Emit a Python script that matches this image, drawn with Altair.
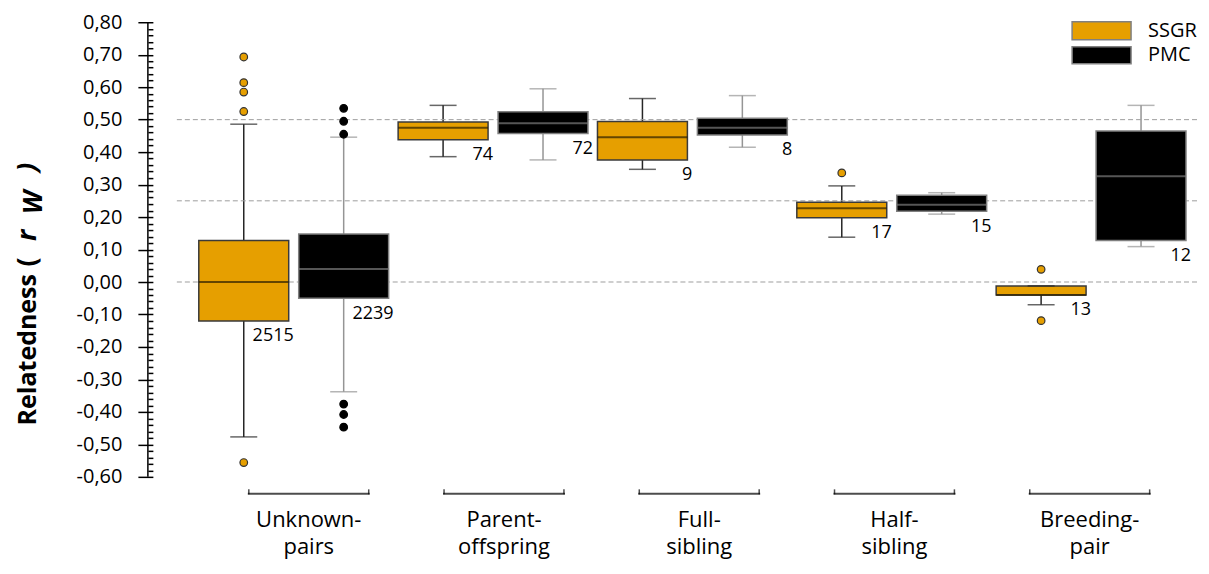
import altair as alt
import pandas as pd

categories = ["Unknown-pairs", "Parent-offspring", "Full-sibling", "Half-sibling", "Breeding-pair"]
groups = ["SSGR", "PMC"]

ssgr_low = [-0.477, 0.386, 0.347, 0.138, -0.070]
ssgr_q1 = [-0.120, 0.438, 0.376, 0.198, -0.040]
ssgr_med = [0.000, 0.475, 0.446, 0.227, -0.040]
ssgr_q3 = [0.128, 0.493, 0.494, 0.246, -0.012]
ssgr_high = [0.486, 0.544, 0.565, 0.296, -0.012]
ssgr_n = [2515, 74, 9, 17, 13]

pmc_low = [-0.338, 0.376, 0.415, 0.209, 0.109]
pmc_q1 = [-0.050, 0.457, 0.453, 0.218, 0.128]
pmc_med = [0.040, 0.489, 0.475, 0.238, 0.326]
pmc_q3 = [0.148, 0.524, 0.504, 0.267, 0.465]
pmc_high = [0.446, 0.595, 0.574, 0.275, 0.544]
pmc_n = [2239, 72, 8, 15, 12]

outlier_cat = ["Unknown-pairs"] * 5 + ["Unknown-pairs"] * 6 + ["Half-sibling"] + ["Breeding-pair"] * 2
outlier_grp = ["SSGR"] * 5 + ["PMC"] * 6 + ["SSGR"] + ["SSGR"] * 2
outlier_val = [0.693, 0.614, 0.585, 0.525, -0.556,
               0.535, 0.495, 0.455, -0.376, -0.408, -0.447,
               0.336,
               0.039, -0.119]

reference_lines = [0.0, 0.25, 0.50]
y_tick_values = [round(-0.60 + 0.02 * i, 2) for i in range(71)]

FONT = "Open Sans"
W, H = 1053, 455

rows = []
for g, lo, q1, md, q3, hi, n in [("SSGR", ssgr_low, ssgr_q1, ssgr_med, ssgr_q3, ssgr_high, ssgr_n),
                                 ("PMC", pmc_low, pmc_q1, pmc_med, pmc_q3, pmc_high, pmc_n)]:
    for i, c in enumerate(categories):
        rows.append({"cat": c, "grp": g, "lo": lo[i], "q1": q1[i], "med": md[i],
                     "q3": q3[i], "hi": hi[i], "n": n[i]})
box = pd.DataFrame(rows)
outl = pd.DataFrame({"cat": outlier_cat, "grp": outlier_grp, "val": outlier_val})
cats_df = pd.DataFrame({"cat": categories})

y_scale = alt.Scale(domain=[-0.6, 0.8], nice=False, zero=False)
# band scale of the boxes
x_scale = alt.Scale(domain=categories, paddingInner=0, paddingOuter=0.139, align=0.833)
xo_scale = alt.Scale(domain=groups, paddingInner=0.1, paddingOuter=0.0475)
# band scale of the category brackets / labels (slightly tighter, as in the original)
xb_scale = alt.Scale(domain=categories, paddingInner=0, paddingOuter=0.1945, align=0.833)

major_test = "abs(round(datum.value * 100)) % 10 == 0"
y_axis = alt.Axis(
    values=y_tick_values, title=None, grid=False, domain=False, offset=-5,
    tickColor="black", tickWidth=1.5,
    tickSize={"condition": {"test": major_test, "value": 15}, "value": 5},
    labelExpr="(" + major_test + ") ? ((datum.value < -0.001 ? '-' : '') + replace(format(abs(datum.value), '.2f'), '.', ',')) : ''",
    labelFont=FONT, labelFontSize=20, labelColor="black", labelPadding=16,
    labelOverlap=False, labelFlush=False, labelBound=False,
)
x_axis = alt.Axis(
    title=None, domain=False, ticks=False, labelAngle=0, labelFont=FONT,
    labelFontSize=22, labelColor="black", labelPadding=33,
    labelLineHeight=27, labelBaseline="top",
    labelExpr="[split(datum.label, '-')[0] + '-', split(datum.label, '-')[1]]",
)

X = alt.X("cat:N", scale=x_scale, axis=None)
XO = alt.XOffset("grp:N", scale=xo_scale)


def Y(field):
    return alt.Y(field, scale=y_scale, axis=y_axis)


is_ssgr = "datum.grp == 'SSGR'"

whisk = alt.Chart(box).mark_rule(strokeWidth=1.5).encode(
    x=X, xOffset=XO, y=Y("lo:Q"), y2="hi:Q",
    color=alt.condition(is_ssgr, alt.value("#262626"), alt.value("#959595")),
)

dashed = alt.Chart(pd.DataFrame({"v": reference_lines})).mark_rule(
    color="#9e9e9e", strokeDash=[5, 3], strokeWidth=1
).encode(y=Y("v:Q"), x=alt.value(29), x2=alt.value(W))

boxes = alt.Chart(box).mark_bar(strokeWidth=1.5).encode(
    x=X, xOffset=XO, y=Y("q1:Q"), y2="q3:Q",
    fill=alt.condition(is_ssgr, alt.value("#E69F00"), alt.value("#000000")),
    stroke=alt.condition(is_ssgr, alt.value("#3a3a3a"), alt.value("#808080")),
)

medians = alt.Chart(box).mark_tick(orient="horizontal", size=90, thickness=2).encode(
    x=X, xOffset=XO, y=Y("med:Q"),
    color=alt.condition(is_ssgr, alt.value("#2b2000"), alt.value("#7a7a7a")),
)

cap_lo = alt.Chart(box).mark_tick(orient="horizontal", size=27, thickness=1.5).encode(
    x=X, xOffset=XO, y=Y("lo:Q"),
    color=alt.condition(is_ssgr, alt.value("#262626"), alt.value("#959595")),
)
cap_hi = alt.Chart(box).mark_tick(orient="horizontal", size=27, thickness=1.5).encode(
    x=X, xOffset=XO, y=Y("hi:Q"),
    color=alt.condition(is_ssgr, alt.value("#262626"), alt.value("#959595")),
)

points = alt.Chart(outl).mark_point(shape="circle", filled=True, size=58, strokeWidth=1.2, opacity=1).encode(
    x=X, xOffset=XO, y=Y("val:Q"),
    fill=alt.condition(is_ssgr, alt.value("#E69F00"), alt.value("#000000")),
    stroke=alt.condition(is_ssgr, alt.value("#333333"), alt.value("#000000")),
)

ntext = alt.Chart(box).mark_text(align="right", baseline="middle", dx=50, dy=15.5,
                                 font=FONT, fontSize=18, color="black").encode(
    x=X, xOffset=XO, y=Y("q1:Q"), text="n:Q",
)

br_line = alt.Chart(cats_df).mark_tick(orient="horizontal", size=122, thickness=2,
                                       color="#000000").encode(
    x=alt.X("cat:N", scale=xb_scale, axis=x_axis), y=alt.value(H + 17))
br_left = alt.Chart(cats_df).mark_tick(orient="vertical", size=5, thickness=1.5,
                                       xOffset=-60, color="#000000").encode(
    x=alt.X("cat:N", scale=xb_scale, axis=None), y=alt.value(H + 15))
br_right = alt.Chart(cats_df).mark_tick(orient="vertical", size=5, thickness=1.5,
                                        xOffset=60, color="#000000").encode(
    x=alt.X("cat:N", scale=xb_scale, axis=None), y=alt.value(H + 15))

axis_line = alt.Chart(pd.DataFrame({"a": [0]})).mark_rule(color="black", strokeWidth=1.5).encode(
    x=alt.value(0), y=alt.value(0), y2=alt.value(H))

leg1 = alt.Chart(pd.DataFrame({"grp": [groups[0]]}))
leg2 = alt.Chart(pd.DataFrame({"grp": [groups[1]]}))
leg_rect1 = leg1.mark_rect(fill="#E69F00", stroke="#808080", strokeWidth=1.5).encode(
    x=alt.value(925), x2=alt.value(984), y=alt.value(-0.5), y2=alt.value(17.5))
leg_rect2 = leg2.mark_rect(fill="#000000", stroke="#808080", strokeWidth=1.5).encode(
    x=alt.value(925), x2=alt.value(984), y=alt.value(24.5), y2=alt.value(41.5))
leg_txt1 = leg1.mark_text(align="left", baseline="middle", font=FONT, fontSize=20, color="black").encode(
    x=alt.value(1001), y=alt.value(8.5), text="grp:N")
leg_txt2 = leg2.mark_text(align="left", baseline="middle", font=FONT, fontSize=20, color="black").encode(
    x=alt.value(1001), y=alt.value(33), text="grp:N")

title_text = ["Relatedness", "(", "r", "W", ")"]
title_df = pd.DataFrame({"t": title_text})


def tpart(i, ypos, size=25, italic=False, xpos=-112):
    props = dict(angle=270, align="left", baseline="alphabetic", font=FONT,
                 fontSize=size, fontWeight="bold", color="black")
    if italic:
        props["fontStyle"] = "italic"
    return alt.Chart(title_df.iloc[[i]]).mark_text(**props).encode(
        x=alt.value(xpos), y=alt.value(ypos), text="t:N")


t_a = tpart(0, 403.5)
t_b = tpart(1, 244.5, size=27)
t_c = tpart(2, 219, size=27, italic=True)
t_d = tpart(3, 192, size=26, italic=True, xpos=-106)
t_e = tpart(4, 150, size=27, italic=True)

chart = alt.layer(
    whisk, dashed, boxes, medians, cap_lo, cap_hi, points, ntext,
    br_line, br_left, br_right, axis_line,
    leg_rect1, leg_rect2, leg_txt1, leg_txt2, t_a, t_b, t_c, t_d, t_e,
).resolve_scale(x="independent").properties(
    width=W, height=H, padding={"left": 6, "top": 4, "right": 0, "bottom": 20},
    background="white",
).configure_view(stroke=None)

chart.save("out.html", embed_options={"renderer": "svg", "actions": False})
